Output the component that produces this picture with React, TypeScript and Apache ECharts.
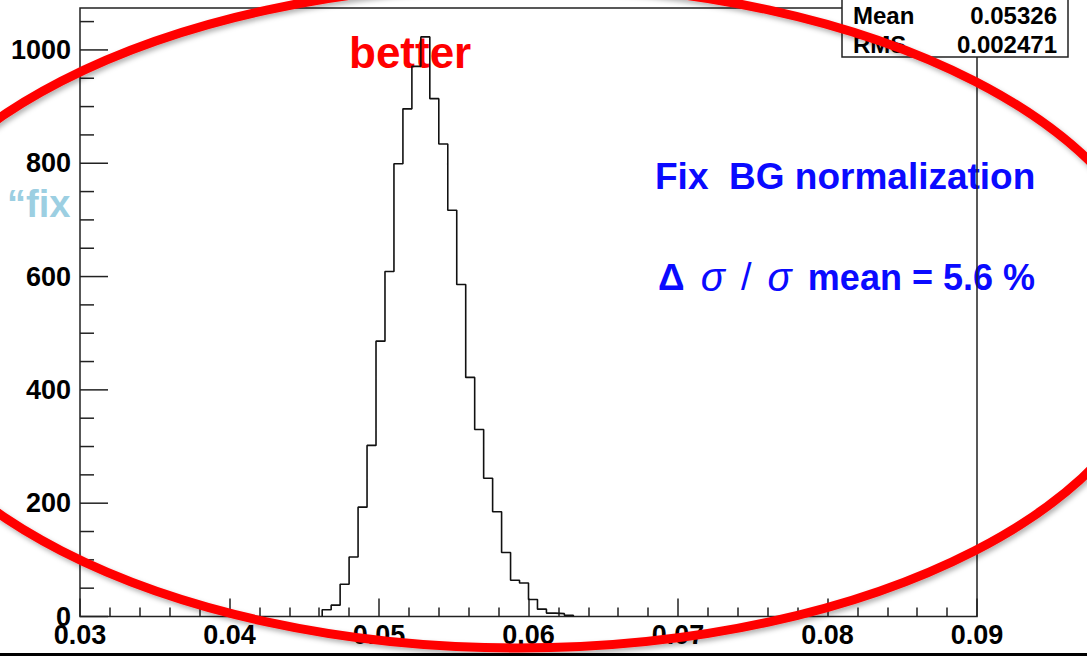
import React, { useEffect, useRef } from "react";
import * as echarts from "echarts";

// Histogram binning (ROOT style: 100 bins from 0.03 to 0.09)
const xMin = 0.03;
const xMax = 0.09;
const binWidth = 0.0006;
const firstBin = 27;
// bin contents starting at firstBin
const counts = [12, 20, 57, 105, 193, 302, 486, 609, 799, 896, 971, 1023, 914, 834, 717, 586, 422, 330, 244, 185, 113, 64, 59, 30, 13, 6, 5, 2];

const yMax = 1074;
const yMajorTicks = [0, 200, 400, 600, 800, 1000];
const yMinorTicks = [50, 100, 150, 250, 300, 350, 450, 500, 550, 650, 700, 750, 850, 900, 950, 1050];

const statsLabels = ["Mean", "RMS"];
const statsValues = ["0.05326", "0.002471"];

const FONT = "'Liberation Sans', Arial, Helvetica, sans-serif";
const BLUE = "#0a0aff";

export default function App() {
  const ref = useRef<HTMLDivElement>(null);
  useEffect(() => {
    if (!ref.current) return;
    const chart = echarts.init(ref.current, undefined, { renderer: "svg" });
    const edge = (k: number) => xMin + k * binWidth;
    const histPoints: number[][] = [[edge(firstBin), 0]];
    counts.forEach((c, i) => histPoints.push([edge(firstBin + i), c]));
    histPoints.push([edge(firstBin + counts.length), 0]);

    const tickData = [
      ...yMajorTicks.map((v) => [xMin, v, 28]),
      ...yMinorTicks.map((v) => [xMin, v, 14]),
    ];

    chart.setOption({
      animation: false,
      backgroundColor: "#ffffff",
      grid: {
        left: 80,
        right: 110,
        top: 8,
        bottom: 39.5,
        show: true,
        borderColor: "#222",
        borderWidth: 1.5,
        backgroundColor: "transparent",
      },
      xAxis: {
        type: "value",
        min: xMin,
        max: xMax,
        interval: 0.01,
        axisLine: { show: false },
        splitLine: { show: false },
        axisTick: { show: true, inside: true, length: 18, lineStyle: { color: "#222", width: 1.5 } },
        minorTick: { show: true, splitNumber: 5, length: 9, lineStyle: { color: "#222", width: 1.5 } },
        minorSplitLine: { show: false },
        axisLabel: {
          margin: 5,
          color: "#000",
          fontFamily: FONT,
          fontWeight: "bold",
          fontSize: 27,
          formatter: (v: number) => v.toFixed(2),
        },
      },
      yAxis: {
        type: "value",
        min: 0,
        max: yMax,
        interval: 200,
        axisLine: { show: false },
        splitLine: { show: false },
        axisTick: { show: false },
        axisLabel: {
          margin: 9,
          color: "#000",
          fontFamily: FONT,
          fontWeight: "bold",
          fontSize: 27,
          showMaxLabel: false,
          formatter: (v: number) => (Math.round(v) % 200 === 0 && v <= 1000 ? String(Math.round(v)) : ""),
        },
      },
      series: [
        {
          type: "line",
          step: "end",
          data: histPoints,
          symbol: "none",
          lineStyle: { color: "#111", width: 1.6 },
          z: 3,
        },
        {
          type: "custom",
          data: tickData,
          encode: { x: 0, y: 1 },
          z: 3,
          renderItem: (params: any, api: any) => {
            const p = api.coord([api.value(0), api.value(1)]);
            const len = api.value(2);
            return {
              type: "line",
              shape: { x1: p[0], y1: p[1], x2: p[0] + len, y2: p[1] },
              style: { stroke: "#222", lineWidth: 1.5 },
            };
          },
        },
      ],
      graphic: {
        elements: [
          {
            type: "rect",
            shape: { x: 0, y: 653, width: 1087, height: 3 },
            style: { fill: "#000" },
            z: 5,
            silent: true,
          },
          {
            type: "text",
            x: 7,
            y: 204,
            z: -1,
            style: {
              text: "“fix",
              fill: "#9ccfe2",
              font: `bold 38px ${FONT}`,
              verticalAlign: "middle",
              align: "left",
            },
          },
          {
            type: "text",
            x: 349,
            y: 52,
            z: -1,
            style: {
              text: "better",
              fill: "#ff0000",
              font: `bold 44px ${FONT}`,
              verticalAlign: "middle",
              align: "left",
            },
          },
          {
            type: "text",
            x: 655,
            y: 176,
            z: -1,
            style: {
              text: "Fix  BG normalization",
              fill: BLUE,
              font: `bold 37px ${FONT}`,
              verticalAlign: "middle",
              align: "left",
            },
          },
          {
            type: "text",
            x: 658,
            y: 277,
            z: -1,
            style: {
              text: "{d|Δ}{sp| }{s|σ}{sp| }{n|/}{sp| }{s|σ}{sp| }{b|mean = 5.6 %}",
              verticalAlign: "middle",
              align: "left",
              fill: BLUE,
              rich: {
                d: { fontFamily: FONT, fontWeight: "bold", fontSize: 37, fill: BLUE, lineHeight: 42 },
                sp: { fontFamily: FONT, fontSize: 58, fill: BLUE, lineHeight: 42 },
                s: { fontFamily: FONT, fontStyle: "italic", fontSize: 40, fill: BLUE, lineHeight: 42 },
                n: { fontFamily: FONT, fontSize: 38, fill: BLUE, lineHeight: 42 },
                b: { fontFamily: FONT, fontWeight: "bold", fontSize: 36, fill: BLUE, lineHeight: 42 },
              },
            },
          },
          {
            type: "rect",
            shape: { x: 842, y: -2, width: 226, height: 59 },
            style: { fill: "#fff", stroke: "#222", lineWidth: 1.5 },
            z: 50,
          },
          ...statsLabels.map((t, i) => ({
            type: "text",
            x: 853,
            y: 15 + i * 29,
            z: 51,
            style: { text: t, fill: "#000", font: `bold 24px ${FONT}`, verticalAlign: "middle", align: "left" },
          })),
          ...statsValues.map((t, i) => ({
            type: "text",
            x: 1057,
            y: 15 + i * 29,
            z: 51,
            style: { text: t, fill: "#000", font: `bold 24px ${FONT}`, verticalAlign: "middle", align: "right" },
          })),
          {
            type: "ellipse",
            shape: { cx: 518, cy: 316, rx: 646, ry: 332 },
            style: {
              fill: "none",
              stroke: "#ff0000",
              lineWidth: 9,
              shadowBlur: 5,
              shadowColor: "rgba(0,0,0,0.3)",
              shadowOffsetX: 2,
              shadowOffsetY: 3,
            },
            z: 100,
            silent: true,
          },
        ],
      },
    });
    return () => chart.dispose();
  }, []);
  return (
    <div
      ref={ref}
      style={{ position: "fixed", left: 0, top: 0, width: 1087, height: 656, background: "#fff" }}
    />
  );
}
